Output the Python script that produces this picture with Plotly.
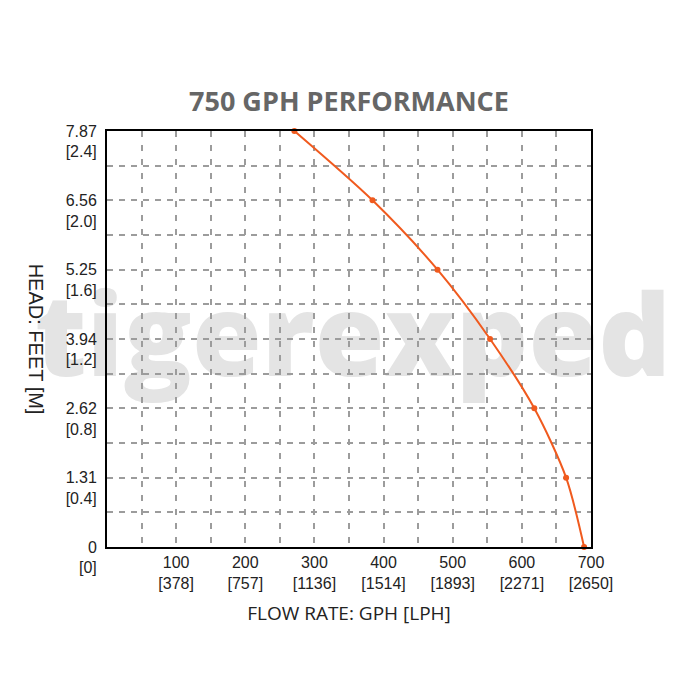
import numpy as np
import plotly.graph_objects as go

# ---- data ----
flow_gph = [271, 384, 478, 554, 618, 664, 690]
head_m = [2.4, 2.0, 1.6, 1.2, 0.8, 0.4, 0.0]

x_tick_vals = [100, 200, 300, 400, 500, 600, 700]
x_tick_gph = ["100", "200", "300", "400", "500", "600", "700"]
x_tick_lph = ["[378]", "[757]", "[1136]", "[1514]", "[1893]", "[2271]", "[2650]"]

y_tick_vals = [0, 0.4, 0.8, 1.2, 1.6, 2.0, 2.4]
y_tick_ft = ["0", "1.31", "2.62", "3.94", "5.25", "6.56", "7.87"]
y_tick_m = ["[0]", "[0.4]", "[0.8]", "[1.2]", "[1.6]", "[2.0]", "[2.4]"]

title_text = "750 GPH PERFORMANCE"
x_title = "FLOW RATE: GPH [LPH]"
y_title = "HEAD: FEET [M]"
watermark = "tigerexped"

ORANGE = "#F05A1E"
GRID = "#9c9c9c"
TXT = "#222222"

x_ticktext = [f"{a}<br>{b}" for a, b in zip(x_tick_gph, x_tick_lph)]
y_ticktext = [f"\u200b<br>{a}<br>{b}" for a, b in zip(y_tick_ft, y_tick_m)]

W = H = 692  # page body has an 8px margin

fig = go.Figure()

# watermark in an underlying subplot (so the grid is drawn above it)
fig.add_trace(go.Scatter(
    x=[0.508], y=[0.478], mode="text", text=[watermark],
    textfont=dict(family="Open Sans", size=113, color="#e4e4e4", weight=800),
    cliponaxis=False, hoverinfo="skip", showlegend=False,
    xaxis="x", yaxis="y",
))

fig.add_trace(go.Scatter(
    x=flow_gph, y=head_m, mode="lines+markers",
    line=dict(color=ORANGE, width=2, shape="spline", smoothing=0.8),
    marker=dict(color=ORANGE, size=6),
    cliponaxis=False, showlegend=False,
    xaxis="x2", yaxis="y2",
))

fig.update_layout(
    width=W, height=H,
    margin=dict(l=99, r=109, t=123, b=153, autoexpand=False),
    paper_bgcolor="white", plot_bgcolor="rgba(0,0,0,0)",
    xaxis=dict(domain=[0, 1], range=[0, 1], visible=False, fixedrange=True),
    yaxis=dict(domain=[0, 1], range=[0, 1], visible=False, fixedrange=True, anchor="x"),
    xaxis2=dict(
        domain=[0, 1], anchor="y2", range=[0, 700],
        tickmode="array", tickvals=x_tick_vals, ticktext=x_ticktext,
        ticks="", showline=True, linecolor="black", linewidth=2, mirror=True,
        showgrid=True, gridcolor=GRID, gridwidth=2, griddash="6px,8px",
        minor=dict(tickvals=list(np.arange(50, 700, 50)), showgrid=True,
                   gridcolor=GRID, gridwidth=2, griddash="6px,8px"),
        tickfont=dict(family="Liberation Sans", size=16, color=TXT),
        zeroline=False,
        title=dict(text=x_title, font=dict(family="Open Sans", size=19, color=TXT), standoff=16),
    ),
    yaxis2=dict(
        domain=[0, 1], anchor="x2", range=[0, 2.4],
        tickmode="array", tickvals=y_tick_vals, ticktext=y_ticktext,
        ticks="", showline=True, linecolor="black", linewidth=2, mirror=True,
        showgrid=True, gridcolor=GRID, gridwidth=2, griddash="6px,6px",
        minor=dict(tickvals=list(np.round(np.arange(0.2, 2.4, 0.2), 2)), showgrid=True,
                   gridcolor=GRID, gridwidth=2, griddash="6px,6px"),
        tickfont=dict(family="Liberation Sans", size=16, color=TXT),
        ticklabelstandoff=5,
        zeroline=False,
    ),
    title=dict(text=title_text, x=0.5, xref="paper", xanchor="center",
               y=1 - 94 / H, yref="container", yanchor="middle",
               font=dict(family="Open Sans", size=27, color="#666666", weight="bold")),
    annotations=[dict(
        text=y_title, textangle=90, xref="paper", yref="paper",
        x=-0.146, y=0.5, xanchor="center", yanchor="middle", showarrow=False,
        font=dict(family="Liberation Sans", size=20, color=TXT),
    )],
)

fig.write_html("out.html")
